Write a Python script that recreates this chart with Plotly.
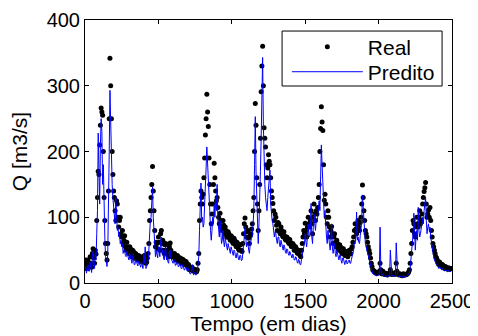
import plotly.graph_objects as go

step_days = 5
real = [
    28, 35, 22, 30, 35, 26, 25, 40, 30, 24, 45, 52, 38, 30, 50, 44, 95, 130, 170, 165,
    210, 240, 266, 260, 255, 200, 130, 95, 60, 45, 35, 60, 140, 250, 342, 300, 250, 200, 165, 140,
    130, 110, 95, 125, 120, 100, 85, 95, 100, 75, 70, 80, 60, 65, 72, 55, 50, 62, 55, 48,
    45, 55, 52, 42, 40, 50, 48, 38, 38, 45, 42, 36, 35, 42, 40, 34, 33, 40, 38, 32,
    35, 42, 40, 30, 32, 38, 45, 60, 95, 110, 130, 150, 177, 140, 110, 80, 55, 62, 60, 52,
    70, 62, 50, 75, 80, 60, 65, 50, 45, 58, 60, 48, 50, 42, 40, 55, 61, 50, 45, 40,
    40, 44, 45, 36, 35, 40, 42, 34, 33, 38, 38, 31, 30, 36, 35, 29, 28, 33, 32, 27,
    25, 28, 22, 20, 20, 23, 24, 19, 18, 21, 20, 17, 17, 20, 30, 45, 95, 120, 140, 130,
    120, 135, 160, 190, 225, 250, 287, 260, 238, 190, 150, 120, 90, 105, 120, 150, 182, 160, 140, 125,
    130, 115, 100, 90, 106, 95, 85, 80, 95, 88, 75, 85, 80, 70, 70, 78, 75, 68, 65, 72,
    70, 62, 60, 68, 65, 58, 55, 62, 60, 52, 50, 58, 58, 50, 48, 60, 75, 90, 99, 85,
    70, 78, 80, 68, 60, 72, 75, 82, 90, 110, 130, 200, 273, 240, 160, 120, 80, 110, 150, 220,
    291, 330, 360, 300, 236, 220, 207, 180, 160, 175, 195, 185, 180, 160, 140, 130, 121, 110, 95, 105,
    100, 88, 80, 92, 90, 78, 75, 85, 80, 72, 70, 78, 72, 66, 65, 70, 68, 62, 60, 66,
    62, 56, 55, 60, 58, 50, 50, 55, 52, 46, 45, 50, 48, 42, 40, 50, 60, 70, 80, 75,
    91, 80, 70, 85, 100, 90, 85, 95, 110, 90, 75, 100, 120, 105, 95, 110, 105, 115, 130, 150,
    200, 235, 268, 245, 232, 180, 126, 135, 120, 100, 90, 110, 100, 85, 70, 80, 86, 75, 60, 70,
    75, 62, 55, 65, 60, 52, 50, 58, 55, 48, 45, 52, 52, 45, 42, 48, 48, 42, 40, 46,
    50, 44, 45, 52, 55, 62, 70, 80, 90, 82, 75, 88, 95, 85, 80, 92, 100, 120, 149, 130,
    110, 95, 80, 75, 70, 62, 55, 50, 45, 38, 30, 25, 20, 19, 18, 17, 16, 15, 15, 16,
    16, 18, 30, 20, 14, 16, 18, 15, 13, 14, 15, 13, 12, 14, 14, 15, 20, 16, 13, 15,
    15, 14, 13, 16, 30, 18, 14, 13, 12, 14, 13, 12, 11, 13, 14, 12, 12, 13, 13, 14,
    15, 17, 20, 30, 45, 60, 80, 95, 90, 75, 70, 85, 100, 90, 85, 100, 110, 90, 95, 105,
    120, 130, 139, 145, 153, 120, 100, 105, 111, 100, 115, 95, 80, 70, 60, 55, 50, 45, 40, 38,
    35, 30, 28, 32, 30, 27, 25, 28, 26, 24, 22, 25, 24, 22, 21, 23, 23, 21, 22, 22,
]
predito = [
    20, 25, 15, 22, 28, 18, 18, 32, 22, 16, 40, 48, 30, 22, 45, 35, 75, 110, 228, 150,
    120, 210, 250, 230, 150, 180, 95, 70, 40, 32, 25, 45, 100, 200, 293, 230, 180, 150, 130, 115,
    110, 90, 130, 100, 80, 85, 70, 75, 60, 65, 55, 60, 45, 50, 50, 42, 40, 48, 45, 38,
    35, 45, 40, 32, 30, 42, 38, 28, 28, 36, 32, 26, 26, 33, 30, 24, 24, 32, 28, 22,
    45, 30, 55, 22, 25, 30, 35, 50, 80, 95, 100, 120, 146, 100, 70, 55, 40, 50, 45, 38,
    55, 48, 40, 65, 70, 45, 50, 38, 35, 50, 55, 35, 40, 32, 30, 45, 50, 38, 35, 30,
    30, 36, 35, 27, 27, 32, 32, 25, 25, 30, 28, 22, 22, 28, 26, 20, 20, 25, 24, 18,
    18, 22, 15, 14, 14, 17, 28, 13, 12, 16, 15, 12, 13, 16, 35, 40, 80, 110, 152, 95,
    100, 85, 90, 120, 140, 175, 207, 185, 170, 130, 110, 80, 65, 80, 100, 90, 120, 100, 130, 110,
    150, 95, 80, 70, 95, 75, 60, 65, 80, 62, 55, 68, 60, 52, 50, 60, 55, 48, 45, 55,
    50, 45, 42, 50, 48, 40, 38, 46, 45, 36, 35, 42, 42, 34, 35, 45, 55, 70, 86, 60,
    55, 62, 60, 50, 45, 58, 65, 70, 70, 90, 110, 180, 253, 170, 120, 85, 60, 90, 120, 170,
    220, 280, 343, 240, 180, 150, 130, 120, 110, 130, 150, 165, 172, 120, 100, 95, 90, 80, 70, 78,
    75, 65, 60, 70, 70, 58, 55, 65, 60, 52, 50, 58, 55, 47, 45, 52, 50, 44, 42, 48,
    45, 40, 38, 44, 42, 35, 35, 40, 38, 32, 30, 36, 34, 28, 28, 36, 45, 52, 55, 60,
    75, 62, 55, 70, 90, 72, 70, 80, 121, 70, 60, 85, 105, 90, 80, 95, 95, 100, 115, 125,
    110, 160, 210, 180, 150, 120, 100, 110, 80, 70, 60, 80, 70, 60, 50, 62, 90, 55, 45, 52,
    60, 45, 40, 50, 45, 38, 35, 42, 42, 34, 30, 38, 38, 32, 28, 34, 35, 29, 30, 34,
    35, 30, 30, 36, 40, 45, 50, 62, 60, 70, 108, 65, 70, 62, 60, 72, 80, 95, 134, 110,
    90, 75, 60, 55, 50, 45, 40, 35, 30, 25, 20, 17, 14, 13, 13, 12, 12, 11, 11, 12,
    12, 14, 85, 25, 11, 12, 14, 11, 10, 11, 12, 10, 9, 11, 11, 12, 50, 14, 10, 12,
    12, 11, 10, 13, 61, 15, 11, 10, 9, 11, 10, 9, 8, 10, 12, 9, 9, 10, 10, 11,
    12, 13, 15, 22, 35, 50, 60, 75, 106, 60, 50, 70, 80, 65, 115, 80, 70, 75, 80, 90,
    100, 90, 110, 120, 130, 95, 75, 85, 90, 80, 85, 70, 60, 52, 45, 40, 35, 32, 30, 28,
    28, 24, 22, 25, 24, 21, 20, 22, 21, 19, 18, 20, 20, 18, 17, 19, 19, 17, 18, 18,
]
days = [i * step_days for i in range(len(real))]

x_ticks = [0, 500, 1000, 1500, 2000, 2500]
y_ticks = [0, 100, 200, 300, 400]

FONT = "Arial, Liberation Sans, Helvetica, sans-serif"

fig = go.Figure()
fig.add_trace(go.Scatter(x=days, y=real, mode="markers", name="Real",
                         marker=dict(color="black", size=5), legend="legend"))
fig.add_trace(go.Scatter(x=days, y=predito, mode="lines", name="Predito",
                         line=dict(color="#0000FF", width=1), legend="legend2"))

axis_common = dict(showline=True, linecolor="black", linewidth=1, mirror="ticks",
                   ticks="inside", ticklen=4, tickcolor="black", showgrid=False,
                   zeroline=False, automargin=False,
                   tickfont=dict(family=FONT, size=20, color="black"))

legend_common = dict(x=0.550, xanchor="left", yanchor="middle",
                     bgcolor="rgba(0,0,0,0)", borderwidth=0,
                     font=dict(family=FONT, size=21, color="black"), itemwidth=71)

# page body adds an 8px offset, so the figure is sized to fit the 478x336 window
fig.update_layout(
    width=470, height=328,
    margin=dict(l=77, r=26, t=12, b=53),
    paper_bgcolor="white", plot_bgcolor="white",
    font=dict(family=FONT, size=20, color="black"),
    xaxis=dict(range=[0, 2500], tickvals=x_ticks, **axis_common,
               title=dict(text="Tempo (em dias)", font=dict(family=FONT, size=21), standoff=4)),
    yaxis=dict(range=[0, 400], tickvals=y_ticks, **axis_common,
               title=dict(text="Q [m3/s]", font=dict(family=FONT, size=21), standoff=13)),
    legend=dict(y=0.897, **legend_common),
    legend2=dict(y=0.802, **legend_common),
    shapes=[dict(type="rect", xref="paper", yref="paper", x0=0.537, x1=0.973,
                 y0=0.749, y1=0.958, fillcolor="white",
                 line=dict(color="black", width=1), layer="above")],
    showlegend=True,
)

fig.write_html("out.html")
